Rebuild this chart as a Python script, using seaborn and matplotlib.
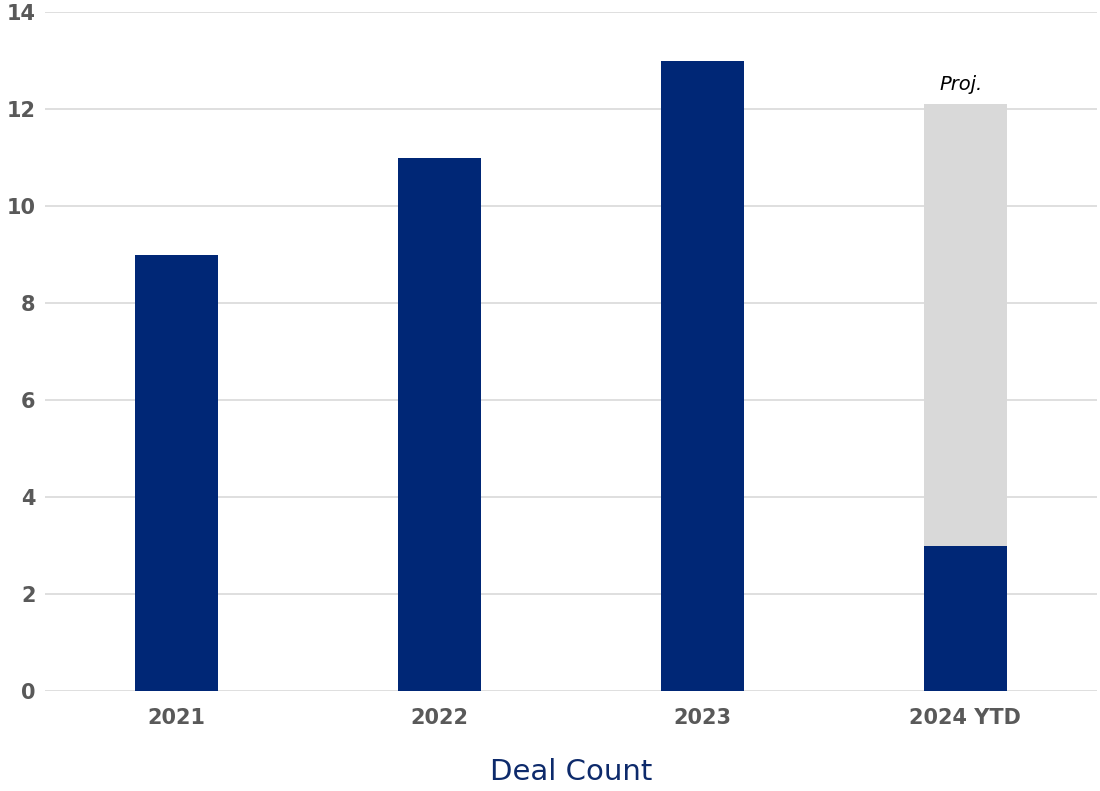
import matplotlib
matplotlib.use("Agg")
import matplotlib.pyplot as plt
import seaborn as sns
import pandas as pd

# Deal counts by year; the 2024 figure is year-to-date with a full-year projection
years = ["2021", "2022", "2023", "2024 YTD"]
deals = [9, 11, 13, 3]
projected_total = [0, 0, 0, 12.1]

NAVY = "#002776"
GREY = "#d9d9d9"
TICK = "#595959"

sns.set_theme(style="white")
plt.rcParams["font.family"] = ["DejaVu Sans"]

df = pd.DataFrame({"year": years, "deals": deals, "projected": projected_total})

fig = plt.figure(figsize=(11, 7.91), dpi=100)
ax = fig.add_axes([0.041, 0.1264, 0.956, 0.8584])

# projection drawn first, actual deals overlaid on top
sns.barplot(data=df, x="year", y="projected", color=GREY, width=0.315,
            saturation=1, linewidth=0, ax=ax, zorder=2)
sns.barplot(data=df, x="year", y="deals", color=NAVY, width=0.315,
            saturation=1, linewidth=0, ax=ax, zorder=3)

ax.set_ylim(0, 14)
ax.set_xlim(-0.5, 3.5)
ax.set_yticks(range(0, 15, 2))
ax.yaxis.grid(True, color=GREY, linewidth=1.2, zorder=0)
ax.set_axisbelow(True)
for s in ax.spines.values():
    s.set_visible(False)

ax.tick_params(axis="both", length=0, colors=TICK, labelsize=15)
ax.tick_params(axis="y", pad=7)
ax.tick_params(axis="x", pad=12)
for lbl in ax.get_xticklabels() + ax.get_yticklabels():
    lbl.set_fontweight("bold")
    lbl.set_color(TICK)

ax.set_ylabel("")
ax.set_xlabel("Deal Count", fontsize=21, color="#0d2a6b", labelpad=22)

idx = years.index("2024 YTD")
ax.annotate("Proj.", xy=(idx, projected_total[idx]), xytext=(-3, 7),
            textcoords="offset points", ha="center", va="bottom",
            fontsize=14, style="italic", color="black")

fig.savefig("out.png", dpi=100)
